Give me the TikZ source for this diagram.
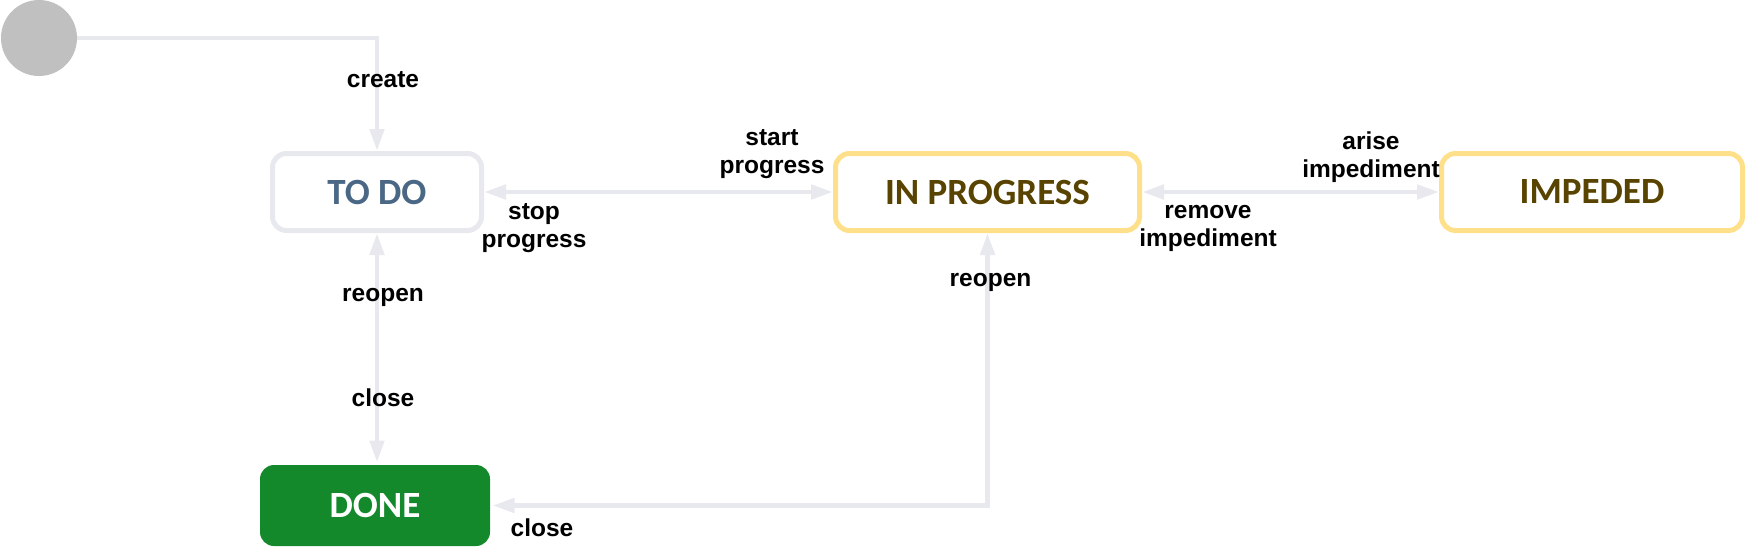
\documentclass[tikz,border=0pt]{standalone}
\usepackage{fontspec}
\setmainfont{Liberation Sans}
\newfontfamily\statefont{Carlito}
\usetikzlibrary{arrows.meta}
\definecolor{flowgrey}{HTML}{E8E9EF}
\definecolor{dotgrey}{HTML}{C0C0C0}
\definecolor{todoblue}{HTML}{4A6785}
\definecolor{progyellow}{HTML}{FFE08A}
\definecolor{progbrown}{HTML}{594300}
\definecolor{donegreen}{HTML}{14892C}
\tikzset{
  statebox/.style={draw, rounded corners=7pt, line width=2.5pt, inner sep=0pt,
    minimum height=38.5pt, font=\statefont\bfseries\fontsize{18.5}{22}\selectfont},
  todobox/.style={statebox, draw=flowgrey, text=todoblue, minimum width=104.5pt},
  progbox/.style={statebox, draw=progyellow, text=progbrown},
  donebox/.style={statebox, draw=none, fill=donegreen, text=white,
    minimum width=115pt, minimum height=40.5pt},
  startdot/.style={circle, fill=dotgrey, minimum size=38pt, inner sep=0pt},
  flow/.style={draw=flowgrey, line width=2.4pt},
  lbl/.style={font=\bfseries\fontsize{12.25}{14}\selectfont, align=center, inner sep=0pt}
}
\begin{document}
\begin{tikzpicture}[x=0.5pt,y=-0.5pt,>={Triangle[length=11pt,width=7pt]}]
  \useasboundingbox (0,0) rectangle (1749,557);
  % states
  \node[startdot] (init) at (39,38) {};
  \node[todobox] (todo) at (377,192) {TO DO};
  \node[progbox, minimum width=152pt] (prog) at (987.5,192) {IN PROGRESS};
  \node[progbox, minimum width=150.5pt] (imp) at (1592,192) {IMPEDED};
  \node[donebox] (done) at (375,505.5) {DONE};
  % transitions
  \draw[flow,->] (init) -| (todo);
  \draw[flow,<->] (todo) -- (prog);
  \draw[flow,<->] (prog) -- (imp);
  \draw[flow,<->] (todo) -- (todo |- done.north);
  \draw[flow,<->] (prog) |- (done);
  % labels
  \node[lbl] (lcreate) at (383,79.5) {create};
  \node[lbl] (lstart) at (772,154) {start\\progress};
  \node[lbl] (lstop) at (534,228) {stop\\progress};
  \node[lbl] (larise) at (1371,157) {arise\\impediment};
  \node[lbl] (lremove) at (1208,228) {remove\\impediment};
  \node[lbl] (lreopen) at (383,297) {reopen};
  \node[lbl] (lclose) at (383,398) {close};
  \node[lbl] (lreopenp) at (990.5,282) {reopen};
  \node[lbl] (lclosep) at (542,528) {close};
\end{tikzpicture}
\end{document}
